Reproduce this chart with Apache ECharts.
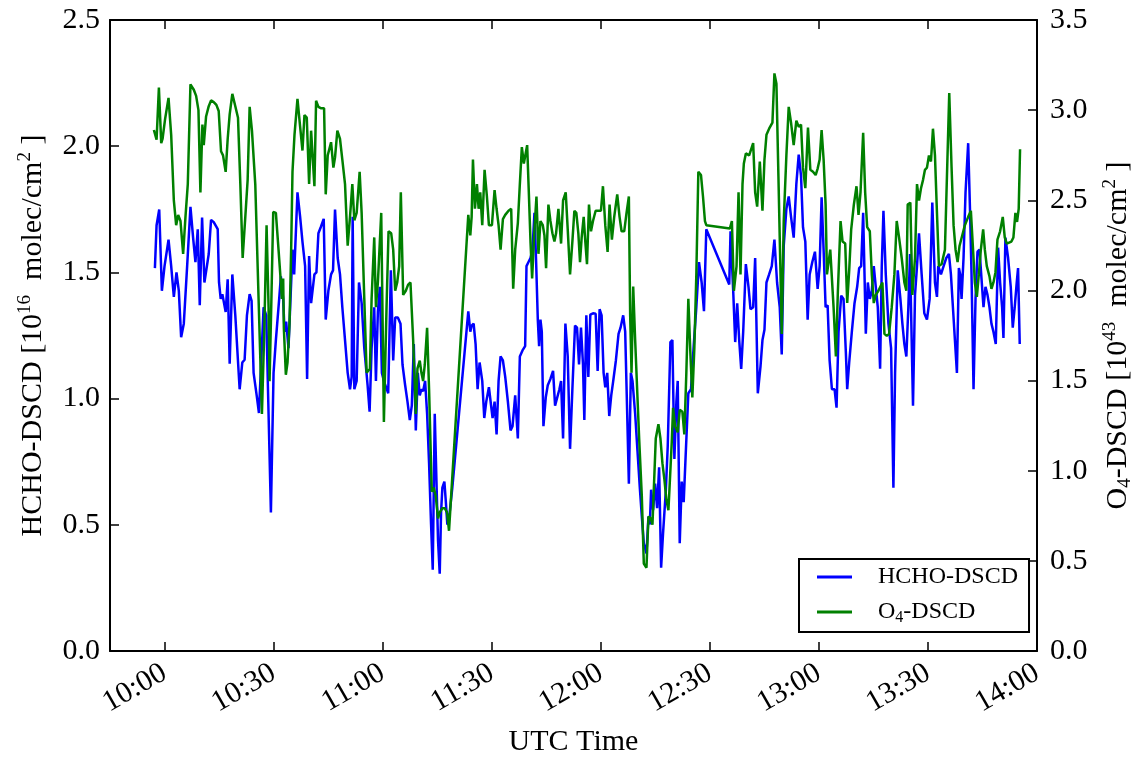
<!DOCTYPE html>
<html>
<head>
<meta charset="utf-8">
<script src="https://cdn.jsdelivr.net/npm/echarts@6/dist/echarts.min.js"></script>
<style>
  html, body { margin: 0; padding: 0; background: #fff; }
  #chart { width: 1143px; height: 762px; }
</style>
</head>
<body>
<div id="chart"></div>
<script>
// Measurement times in minutes after 00:00 UTC, with the slant column densities.
const hchoTime = [
  597.35,597.81,598.54,599.27,600.00,601.10,601.83,602.56,603.29,603.93,
  604.57,605.30,606.22,607.13,607.86,608.50,609.14,609.69,610.33,610.97,
  612.16,612.80,613.53,614.63,614.99,615.45,615.91,616.46,616.82,617.37,
  617.92,618.65,619.47,620.66,621.39,622.03,622.67,623.41,623.95,624.50,
  625.42,625.97,627.25,627.98,629.26,629.99,630.63,631.54,632.00,632.64,
  633.01,633.46,634.10,634.56,635.20,635.66,635.93,636.57,637.30,637.94,
  638.67,639.22,639.77,640.32,640.69,641.23,641.78,642.33,642.97,643.79,
  644.34,645.07,645.81,646.35,646.90,647.63,648.27,648.91,649.65,650.38,
  651.02,651.48,651.75,652.21,652.85,653.49,654.22,654.95,655.86,656.41,
  656.96,657.69,658.15,658.69,659.24,659.79,660.34,660.89,661.53,662.26,
  662.90,663.45,664.18,664.91,665.46,666.19,666.83,667.47,668.02,668.57,
  669.12,669.67,670.21,670.67,671.13,671.68,672.23,672.77,673.32,673.78,
  674.33,674.79,675.24,675.70,676.07,676.43,676.98,677.35,677.80,678.44,
  679.17,683.56,684.11,684.48,685.03,685.57,686.12,686.67,687.40,687.95,
  688.50,689.23,690.24,690.79,691.34,691.89,692.44,693.08,693.72,694.45,
  695.18,695.73,696.46,697.19,697.74,698.47,699.20,699.57,700.12,700.67,
  701.22,701.76,702.22,702.68,703.04,703.41,703.78,704.23,704.87,705.42,
  706.15,706.88,707.43,707.98,708.62,709.08,709.63,710.27,710.91,711.55,
  712.19,712.92,713.47,714.02,714.56,715.11,715.48,716.03,716.58,717.13,
  717.86,718.59,719.14,719.68,720.23,720.78,721.24,721.78,722.33,722.88,
  723.43,724.16,724.89,725.44,726.17,726.72,727.27,727.73,728.28,728.73,
  729.46,730.10,730.74,731.29,731.84,732.57,733.12,733.49,733.85,734.40,
  734.95,735.50,736.05,736.60,737.14,737.88,738.42,739.16,739.70,740.25,
  740.80,741.17,741.72,742.27,742.81,743.36,744.09,744.82,745.56,746.29,
  747.02,747.75,748.39,749.03,755.34,755.70,756.43,756.98,757.53,758.08,
  758.63,759.18,759.91,760.64,761.19,761.92,762.47,763.20,763.93,764.48,
  765.03,765.58,766.31,767.04,767.77,768.50,769.23,769.78,770.33,771.06,
  771.70,772.34,773.07,773.80,774.45,775.09,775.63,776.27,776.91,777.46,
  778.19,778.92,779.66,780.21,780.75,781.30,781.85,782.40,782.95,783.59,
  784.32,784.86,785.41,786.14,786.78,787.42,787.79,788.34,789.07,789.80,
  790.53,791.08,791.63,792.18,792.91,793.46,794.01,794.56,795.10,795.65,
  796.20,796.84,797.30,797.76,798.40,799.13,799.86,800.50,800.96,801.69,
  802.42,802.97,803.52,804.06,804.61,805.07,805.34,805.89,806.44,806.99,
  807.54,808.27,809.00,809.73,810.47,811.20,811.93,812.48,812.84,813.58,
  814.31,815.04,815.77,816.32,816.87,817.42,817.97,818.51,818.88,819.25,
  819.79,820.34,821.07,821.62,821.99,822.54,823.09,823.63,824.18,824.73,
  825.28,825.83,826.38,826.93,827.47,828.02,828.66,829.30,829.85,830.40,
  830.77,831.31,832.05,832.78,833.33,833.87,834.42,834.79,835.25
];
const hchoValue = [
  1.517,1.687,1.749,1.427,1.525,1.630,1.525,1.403,1.500,1.427,
  1.243,1.297,1.525,1.760,1.638,1.541,1.671,1.370,1.717,1.460,
  1.573,1.708,1.699,1.671,1.460,1.395,1.414,1.414,1.343,1.473,
  1.138,1.492,1.330,1.037,1.143,1.154,1.330,1.414,1.387,1.102,
  1.005,0.943,1.362,1.330,0.549,1.102,1.232,1.395,1.484,1.395,
  1.265,1.305,1.200,1.362,1.590,1.492,1.492,1.817,1.720,1.622,
  1.525,1.078,1.565,1.378,1.378,1.492,1.500,1.655,1.679,1.712,
  1.313,1.427,1.492,1.508,1.749,1.557,1.492,1.362,1.232,1.102,
  1.037,1.086,1.720,1.037,1.070,1.460,1.378,1.200,1.053,0.948,
  1.200,1.362,1.070,1.346,1.443,1.102,1.070,1.070,1.021,1.508,
  1.151,1.321,1.321,1.297,1.135,1.053,0.988,0.915,0.972,1.216,
  0.874,1.102,1.013,1.037,1.029,1.070,0.940,0.744,0.501,0.322,
  0.940,0.679,0.436,0.306,0.549,0.647,0.671,0.598,0.501,0.549,
  0.647,1.346,1.265,1.289,1.297,1.216,1.037,1.143,1.070,0.923,
  0.988,1.045,0.923,0.988,0.858,1.070,1.167,1.151,1.086,0.988,
  0.874,0.891,1.013,0.842,1.167,1.191,1.208,1.525,1.541,1.557,
  1.590,1.736,1.541,1.313,1.208,1.313,1.265,0.891,1.005,1.053,
  1.078,1.110,0.972,0.972,1.037,1.070,0.842,1.297,1.167,0.801,
  1.037,1.289,1.281,1.135,1.281,1.135,0.915,1.330,1.086,1.333,
  1.338,1.336,1.110,1.354,1.330,1.102,1.045,1.102,0.931,1.013,
  1.070,1.151,1.256,1.281,1.330,1.265,0.940,0.663,1.102,1.070,
  0.940,0.793,0.647,0.533,0.427,0.387,0.533,0.501,0.639,0.558,
  0.663,0.566,0.728,0.330,0.468,0.631,0.810,1.224,1.232,0.761,
  0.988,1.070,0.427,0.671,0.590,0.777,1.021,1.037,1.208,1.362,
  1.541,1.460,1.346,1.671,1.452,1.663,1.427,1.224,1.378,1.232,
  1.118,1.265,1.533,1.443,1.354,1.362,1.557,1.021,1.126,1.232,
  1.273,1.460,1.492,1.525,1.630,1.460,1.362,1.175,1.606,1.752,
  1.801,1.720,1.638,1.850,1.967,1.882,1.679,1.622,1.313,1.492,
  1.541,1.582,1.435,1.525,1.798,1.590,1.362,1.370,1.151,1.037,
  1.037,0.964,1.265,1.408,1.395,1.183,1.037,1.143,1.265,1.378,
  1.443,1.517,1.525,1.736,1.257,1.460,1.395,1.427,1.525,1.443,
  1.362,1.118,1.525,1.744,1.492,1.297,1.200,0.647,1.102,1.508,
  1.395,1.297,1.216,1.167,1.362,1.573,1.362,0.972,1.411,1.525,
  1.655,1.492,1.338,1.313,1.395,1.777,1.460,1.403,1.525,1.492,
  1.525,1.557,1.573,1.492,1.362,1.232,1.102,1.517,1.492,1.395,
  1.557,1.817,2.012,1.720,1.492,1.037,1.395,1.582,1.590,1.476,
  1.362,1.443,1.411,1.362,1.297,1.265,1.216,1.598,1.460,1.362,
  1.240,1.638,1.557,1.443,1.281,1.362,1.460,1.517,1.216
];
const o4Time = [
  597.07,597.53,597.81,598.45,599.09,599.45,600.18,601.10,601.83,602.56,
  603.20,603.75,604.39,605.12,605.76,606.40,607.13,608.05,608.69,609.33,
  609.87,610.42,610.79,611.06,611.43,612.16,612.80,613.53,614.26,614.90,
  615.54,616.09,616.82,617.37,617.92,618.65,619.47,620.21,620.85,621.49,
  622.22,622.86,623.41,624.05,624.96,626.79,627.43,628.07,628.62,628.89,
  629.35,629.90,630.63,631.36,632.00,632.27,632.64,632.82,633.37,633.83,
  634.38,634.83,635.20,635.75,636.57,637.30,637.94,638.49,639.13,639.77,
  640.32,640.69,641.23,641.69,642.33,642.97,643.89,644.34,644.89,645.81,
  646.45,646.90,647.54,648.27,648.91,649.65,650.38,651.02,651.66,652.21,
  652.85,653.67,654.22,654.95,655.59,656.50,656.96,657.69,658.15,658.69,
  659.61,660.34,661.07,661.62,662.35,662.90,663.45,664.00,664.55,665.00,
  665.64,666.37,667.01,667.65,668.39,669.12,669.57,670.21,670.67,671.13,
  671.59,672.23,672.77,673.51,674.05,674.60,675.24,675.70,676.43,677.07,
  677.71,678.26,683.56,684.11,684.48,684.84,685.39,685.94,686.40,686.85,
  687.40,688.04,688.68,689.23,690.06,690.79,691.34,691.89,692.44,693.08,
  693.72,694.63,695.36,695.91,696.46,697.19,697.74,698.29,698.84,699.20,
  699.75,700.21,700.67,701.12,701.76,702.31,702.86,703.41,704.05,704.51,
  704.96,705.60,706.15,706.70,707.25,707.71,708.35,709.08,709.63,710.36,
  710.91,711.55,712.19,712.74,713.28,713.83,714.29,714.75,715.30,715.75,
  716.21,716.76,717.31,717.86,718.59,719.32,720.05,720.60,721.24,721.88,
  722.42,723.06,723.70,724.53,725.17,725.72,726.45,727.09,727.73,728.09,
  728.46,728.92,729.46,730.10,730.56,731.29,731.84,732.57,733.12,733.76,
  734.22,734.77,735.13,735.86,736.41,736.96,737.51,738.06,738.61,738.97,
  739.52,739.89,740.44,741.17,741.72,742.45,742.99,743.54,744.09,744.64,
  745.19,745.74,746.29,746.84,747.57,748.12,748.66,749.03,755.52,756.07,
  756.62,757.35,757.90,758.44,758.99,759.36,759.91,760.82,761.37,761.92,
  762.47,763.02,763.75,764.48,765.03,765.58,766.31,767.22,767.77,768.32,
  768.87,769.42,769.78,770.33,771.06,771.70,772.34,773.07,773.80,774.45,
  775.09,775.63,776.27,777.00,777.65,778.38,779.11,779.66,780.21,780.75,
  781.30,781.85,782.22,783.13,784.04,784.68,785.23,785.96,786.51,787.24,
  787.79,788.34,788.89,789.62,790.35,790.90,791.45,792.18,792.73,793.28,
  794.01,794.56,795.10,795.65,796.38,796.93,797.48,798.03,798.67,799.31,
  800.04,800.77,801.41,802.05,802.78,803.52,804.06,804.43,805.16,805.71,
  806.44,806.99,807.54,808.09,808.64,809.18,809.73,810.28,810.83,811.38,
  811.93,812.48,813.02,813.76,814.67,815.86,816.50,817.05,817.60,818.15,
  818.70,819.43,820.16,821.07,821.81,822.35,822.90,823.45,824.00,824.55,
  825.19,825.65,826.19,826.93,827.47,828.02,828.57,829.12,829.85,830.58,
  831.13,831.68,832.23,832.96,833.51,834.06,834.51,834.97,835.34
];
const o4Value = [
  2.890,2.881,2.836,3.125,2.817,2.840,2.954,3.068,2.863,2.499,
  2.362,2.419,2.385,2.203,2.408,2.590,3.143,3.113,3.079,3.000,
  2.544,2.920,2.806,2.817,2.965,3.022,3.054,3.045,3.029,2.995,
  2.772,2.749,2.658,2.840,2.977,3.090,3.022,2.958,2.590,2.180,
  2.408,2.612,3.018,2.886,2.590,1.315,1.770,2.362,1.907,1.497,
  1.907,2.435,2.430,2.226,2.044,1.953,2.066,1.793,1.532,1.600,
  1.816,2.226,2.658,2.863,3.063,2.908,2.776,2.972,2.958,2.590,
  2.886,2.897,2.578,3.052,3.018,3.011,3.011,2.533,2.749,2.822,
  2.681,2.738,2.886,2.840,2.726,2.590,2.248,2.408,2.590,2.389,
  2.430,2.658,2.430,1.953,1.543,1.566,1.953,2.294,1.907,2.044,
  2.430,1.270,1.907,2.328,2.317,2.226,1.998,2.044,2.135,2.544,
  1.975,1.998,2.032,2.044,1.725,1.315,1.566,1.611,1.543,1.497,
  1.588,1.793,1.452,0.883,0.906,0.860,0.735,0.769,0.792,0.792,
  0.769,0.667,2.419,2.305,2.408,2.726,2.453,2.590,2.453,2.544,
  2.362,2.669,2.521,2.362,2.362,2.556,2.453,2.362,2.226,2.396,
  2.419,2.442,2.453,2.009,2.226,2.374,2.590,2.795,2.704,2.704,
  2.806,2.544,2.271,2.066,2.339,2.521,2.203,2.385,2.362,2.305,
  2.123,2.476,2.385,2.317,2.271,2.317,2.453,2.260,2.499,2.544,
  2.339,2.089,2.271,2.442,2.430,2.317,2.157,2.294,2.408,2.271,
  2.146,2.476,2.328,2.385,2.442,2.442,2.442,2.578,2.362,2.214,
  2.476,2.282,2.408,2.533,2.408,2.328,2.328,2.430,2.521,1.861,
  1.543,2.021,1.725,1.406,1.179,0.860,0.485,0.462,0.746,0.735,
  0.701,0.690,1.179,1.258,1.179,1.042,0.951,0.837,0.781,0.928,
  1.156,1.349,1.247,1.213,1.338,1.327,1.201,1.543,1.953,1.657,
  1.406,1.679,2.089,2.658,2.640,2.521,2.385,2.362,2.344,2.385,
  1.998,2.135,2.544,2.089,2.590,2.704,2.760,2.749,2.738,2.817,
  2.544,2.465,2.715,2.442,2.726,2.863,2.897,2.931,3.204,3.147,
  2.635,2.112,1.759,2.385,2.749,3.018,2.931,2.806,2.942,2.908,
  2.920,2.681,2.567,2.904,2.669,2.658,2.640,2.676,2.726,2.890,
  2.726,2.476,2.089,2.226,1.907,1.634,1.998,2.385,2.271,2.260,
  1.930,2.112,2.339,2.476,2.578,2.419,2.544,2.874,2.544,2.351,
  2.328,2.089,1.930,1.975,1.998,2.021,2.044,1.759,1.748,1.759,
  1.907,2.089,2.385,2.294,2.180,2.044,1.998,2.476,2.487,1.975,
  2.180,2.590,2.499,2.567,2.612,2.669,2.681,2.749,2.715,2.897,
  2.749,2.430,2.135,2.146,2.226,3.095,2.681,2.362,2.226,2.157,
  2.248,2.305,2.362,2.408,2.442,2.248,2.044,1.964,2.089,2.226,
  2.339,2.226,2.135,2.078,2.009,2.044,2.100,2.282,2.328,2.408,
  2.294,2.260,2.260,2.271,2.294,2.430,2.380,2.453,2.783
];
// Time axis ticks (minutes after midnight) and axis extents
const timeTicks = [600, 630, 660, 690, 720, 750, 780, 810, 840];
const timeMin = 585, timeMax = 840;
const hchoMax = 2.5, o4Max = 3.5, valueStep = 0.5;

const FONT = 'Liberation Serif';
const pairs = (t, v) => t.map((x, i) => [x, v[i]]);
const hhmm = v => {
  const h = Math.floor(v / 60), m = Math.round(v - h * 60);
  return h + ':' + String(m).padStart(2, '0');
};

const nameRich = {
  t: { fontFamily: FONT, fontSize: 30, lineHeight: 34, color: '#000' },
  s: { fontFamily: FONT, fontSize: 19, lineHeight: 20, verticalAlign: 'top', color: '#000' },
  b: { fontFamily: FONT, fontSize: 19, lineHeight: 14, verticalAlign: 'bottom', color: '#000' }
};
const tickLabel = { fontFamily: FONT, fontSize: 30, color: '#000' };
const frameLine = { show: true, onZero: false, lineStyle: { color: '#000', width: 2 } };
const innerTick = { show: true, inside: true, length: 9, lineStyle: { color: '#000', width: 1.5 } };

const chart = echarts.init(document.getElementById('chart'), null, { renderer: 'canvas' });
chart.setOption({
  animation: false,
  backgroundColor: '#fff',
  grid: { left: 110, right: 104, top: 20, bottom: 111 },
  legend: {
    orient: 'vertical',
    left: 799, top: 559,
    padding: [6, 11, 6, 18],
    itemGap: 11,
    itemWidth: 35, itemHeight: 3,
    icon: 'rect',
    borderColor: '#000', borderWidth: 2,
    backgroundColor: '#fff',
    selectedMode: false,
    data: ['HCHO-DSCD', 'O4-DSCD'],
    formatter: n => n === 'O4-DSCD' ? '{g|}{t|O}{b|4}{t|-DSCD}' : '{g|}{t|HCHO-DSCD}',
    textStyle: {
      fontFamily: FONT, fontSize: 24, color: '#000',
      rich: {
        g: { width: 21 },
        t: { fontFamily: FONT, fontSize: 24, lineHeight: 28, color: '#000' },
        b: { fontFamily: FONT, fontSize: 16, lineHeight: 12, verticalAlign: 'bottom', color: '#000' }
      }
    }
  },
  xAxis: [{
    type: 'value', position: 'bottom', min: timeMin, max: timeMax,
    name: 'UTC Time', nameLocation: 'middle', nameGap: 76,
    nameTextStyle: { fontFamily: FONT, fontSize: 30, color: '#000' },
    axisLine: frameLine,
    axisTick: Object.assign({ customValues: timeTicks }, innerTick),
    axisLabel: Object.assign({ customValues: timeTicks, rotate: 30, margin: 20, formatter: hhmm }, tickLabel),
    splitLine: { show: false }
  }, {
    type: 'value', position: 'top', min: timeMin, max: timeMax,
    axisLine: frameLine,
    axisTick: Object.assign({ customValues: timeTicks }, innerTick),
    axisLabel: { show: false },
    splitLine: { show: false }
  }],
  yAxis: [{
    type: 'value', position: 'left', min: 0, max: hchoMax, interval: valueStep,
    name: '{t|HCHO-DSCD [10}{s|16}{t|  molec/cm}{s|2}{t| ]}',
    nameLocation: 'middle', nameRotate: 90, nameGap: 60,
    nameTextStyle: { fontFamily: FONT, fontSize: 30, color: '#000', rich: nameRich },
    axisLine: frameLine, axisTick: innerTick,
    axisLabel: Object.assign({ margin: 10, formatter: v => v.toFixed(1) }, tickLabel),
    splitLine: { show: false }
  }, {
    type: 'value', position: 'right', min: 0, max: o4Max, interval: valueStep,
    name: '{t|O}{b|4}{t|-DSCD [10}{s|43}{t|  molec/cm}{s|2}{t| ]}',
    nameLocation: 'middle', nameRotate: 90, nameGap: 64,
    nameTextStyle: { fontFamily: FONT, fontSize: 30, color: '#000', rich: nameRich },
    axisLine: frameLine, axisTick: innerTick,
    axisLabel: Object.assign({ margin: 13, formatter: v => v.toFixed(1) }, tickLabel),
    splitLine: { show: false }
  }],
  series: [{
    name: 'HCHO-DSCD', type: 'line', xAxisIndex: 0, yAxisIndex: 0,
    data: pairs(hchoTime, hchoValue),
    showSymbol: false, symbol: 'none',
    color: '#0000ff',
    lineStyle: { color: '#0000ff', width: 2.5 },
    z: 2
  }, {
    name: 'O4-DSCD', type: 'line', xAxisIndex: 0, yAxisIndex: 1,
    data: pairs(o4Time, o4Value),
    showSymbol: false, symbol: 'none',
    color: '#008000',
    lineStyle: { color: '#008000', width: 2.5 },
    z: 3
  }]
});
</script>
</body>
</html>
